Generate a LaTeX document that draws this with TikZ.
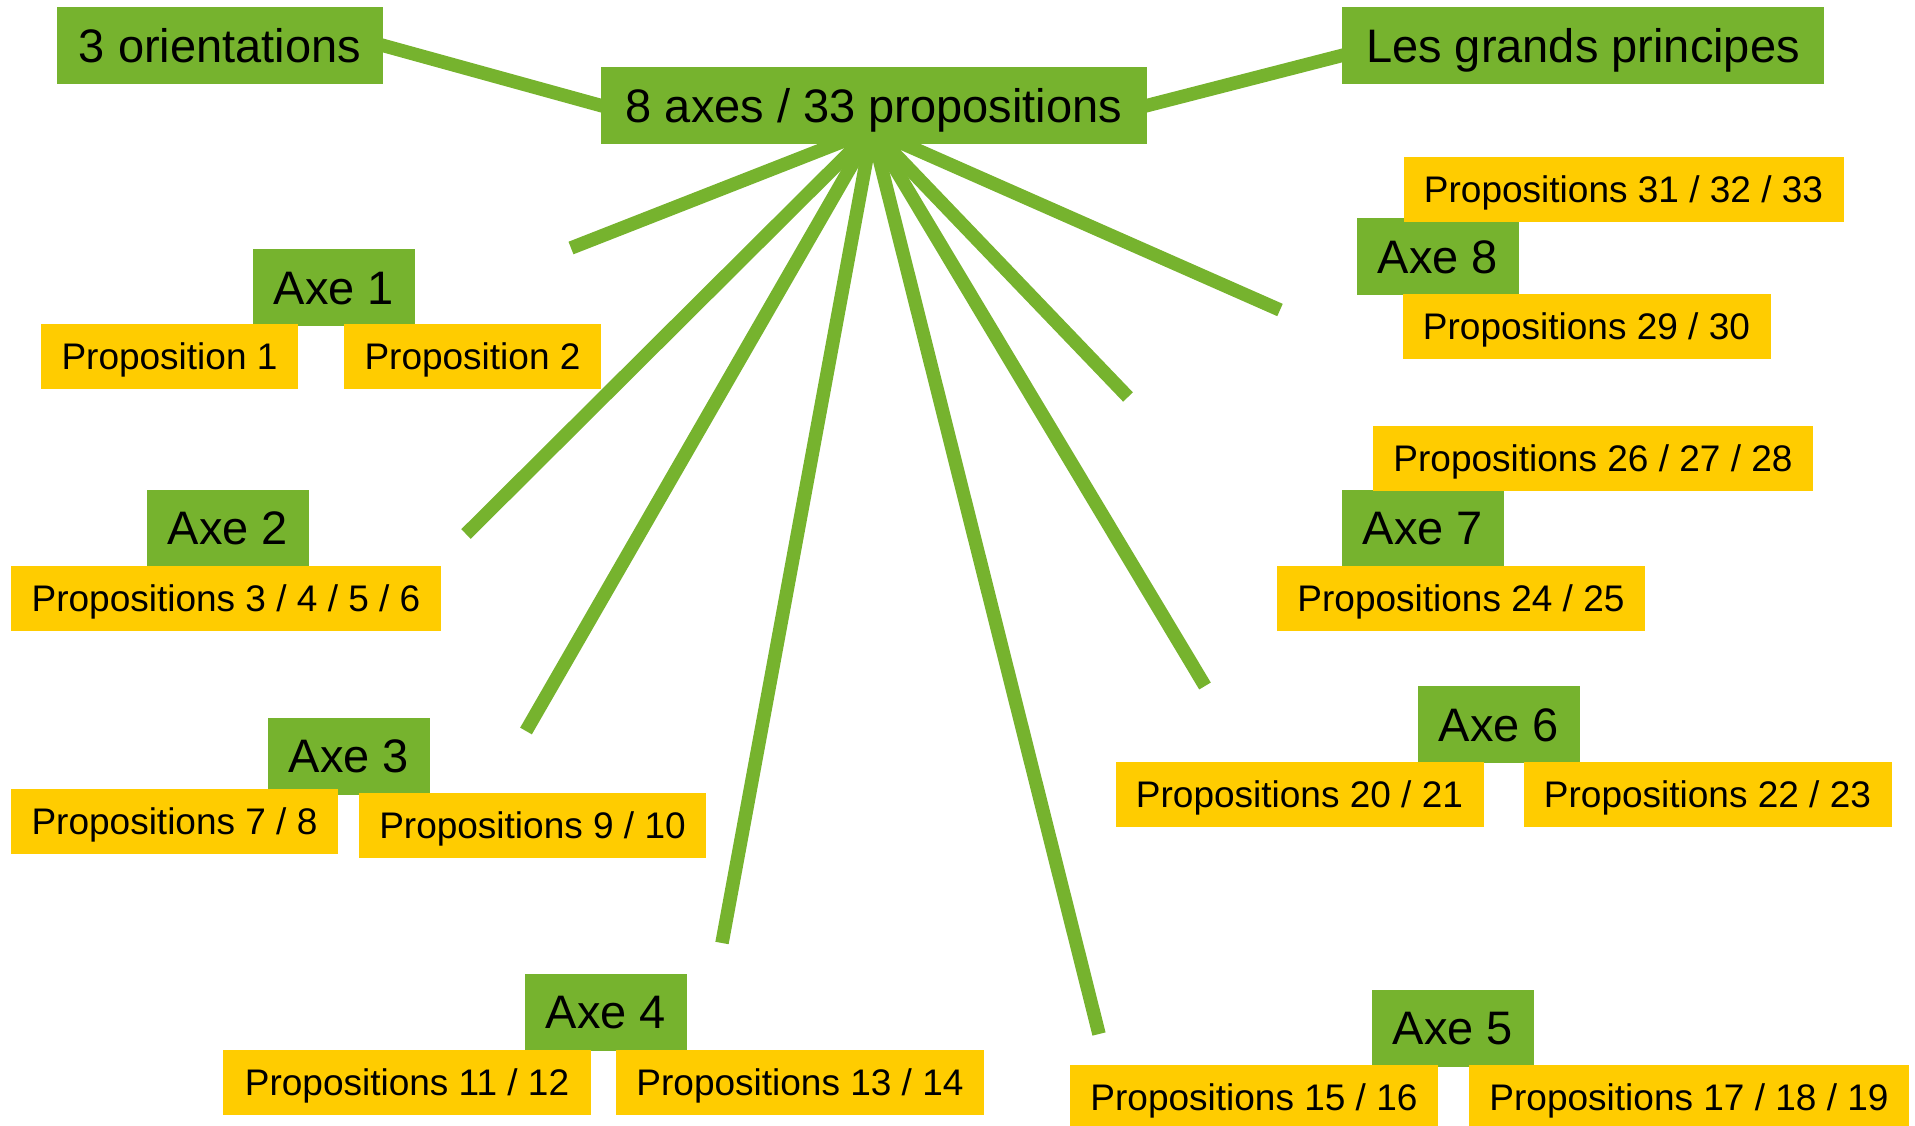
\documentclass[tikz,border=0pt]{standalone}
\usepackage{fontspec}
\setmainfont{Liberation Sans}
\usetikzlibrary{backgrounds}
\definecolor{axgreen}{RGB}{118,179,46}
\definecolor{propyellow}{RGB}{255,204,0}
\tikzset{
  gbox/.style={fill=axgreen, inner sep=0pt, minimum height=77pt, text height=33.7pt, text depth=0pt,
    font=\fontsize{47}{50}\selectfont},
  ybox/.style={fill=propyellow, inner sep=0pt, minimum height=65pt, text height=26.5pt, text depth=0pt,
    font=\fontsize{37}{40}\selectfont},
  spoke/.style={draw=axgreen, line width=13.5pt},
}
\begin{document}
\begin{tikzpicture}[x=1pt,y=-1pt]
\clip (0,0) rectangle (1915,1125);
% main nodes
\node[gbox, minimum width=326pt] (orient) at (220,45.5) {3 orientations};
\node[gbox, minimum width=546pt] (central) at (874,105.5) {8 axes / 33 propositions};
\node[gbox, minimum width=482pt] (lgp) at (1583,45.5) {Les grands principes};
% axes
\node[gbox, minimum width=162pt] (a1) at (334,287.5) {Axe 1};
\node[gbox, minimum width=162pt] (a2) at (228,528) {Axe 2};
\node[gbox, minimum width=162pt] (a3) at (349,756) {Axe 3};
\node[gbox, minimum width=162pt] (a4) at (606,1012) {Axe 4};
\node[gbox, minimum width=162pt] (a5) at (1453,1028) {Axe 5};
\node[gbox, minimum width=162pt] (a6) at (1499,724.5) {Axe 6};
\node[gbox, minimum width=162pt] (a7) at (1423,528) {Axe 7};
\node[gbox, minimum width=162pt] (a8) at (1438,256.5) {Axe 8};
% propositions
\node[ybox, minimum width=257pt] (p1) at (169.5,356.5) {Proposition 1};
\node[ybox, minimum width=257pt] (p2) at (472.5,356.5) {Proposition 2};
\node[ybox, minimum width=430pt] (p3) at (226,598.5) {Propositions 3 / 4 / 5 / 6};
\node[ybox, minimum width=327pt] (p7) at (174.5,821.5) {Propositions 7 / 8};
\node[ybox, minimum width=347pt] (p9) at (532.5,825.5) {Propositions 9 / 10};
\node[ybox, minimum width=368pt] (p11) at (407,1082.5) {Propositions 11 / 12};
\node[ybox, minimum width=368pt] (p13) at (800,1082.5) {Propositions 13 / 14};
\node[ybox, minimum width=368pt] (p15) at (1254,1097.5) {Propositions 15 / 16};
\node[ybox, minimum width=440pt] (p17) at (1689,1097.5) {Propositions 17 / 18 / 19};
\node[ybox, minimum width=368pt] (p20) at (1299.5,794.5) {Propositions 20 / 21};
\node[ybox, minimum width=368pt] (p22) at (1707.5,794.5) {Propositions 22 / 23};
\node[ybox, minimum width=368pt] (p24) at (1461,598.5) {Propositions 24 / 25};
\node[ybox, minimum width=440pt] (p26) at (1593,458.5) {Propositions 26 / 27 / 28};
\node[ybox, minimum width=368pt] (p29) at (1586.5,326.5) {Propositions 29 / 30};
\node[ybox, minimum width=440pt] (p31) at (1623.5,189.5) {Propositions 31 / 32 / 33};
% connectors
\coordinate (hub) at (872,130);
\coordinate (e1) at (571,248);
\coordinate (e2) at (466,534);
\coordinate (e3) at (526,731);
\coordinate (e4) at (722,943);
\coordinate (e5) at (1099,1034);
\coordinate (e6) at (1205,686);
\coordinate (e7) at (1128,397);
\coordinate (e8) at (1280,310);
\begin{scope}[on background layer]
\draw[spoke, shorten <=-4pt, shorten >=-4pt] (orient.east) -- (central.west);
\draw[spoke, shorten <=-4pt, shorten >=-4pt] (central.east) -- ([yshift=-10pt]lgp.west);
\foreach \e in {e1,e2,e3,e4,e5,e6,e7,e8}
  \draw[spoke] (hub) -- (\e);
\end{scope}
\end{tikzpicture}
\end{document}
